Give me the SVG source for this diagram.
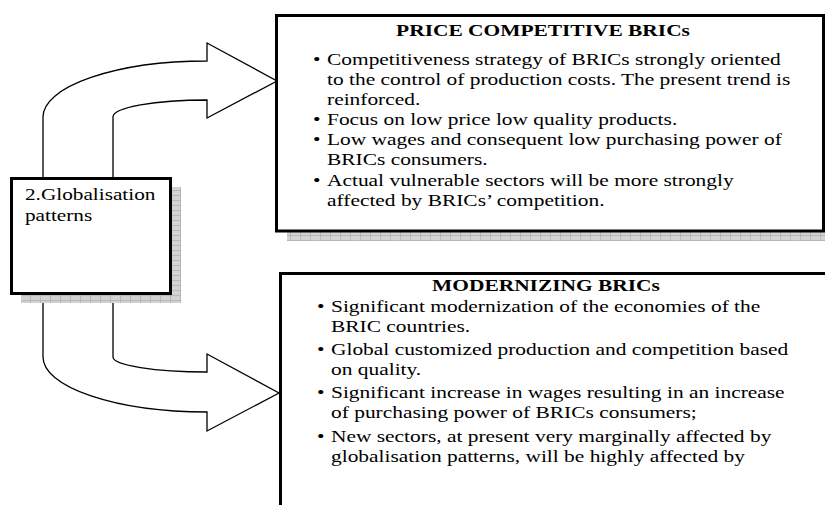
<svg xmlns="http://www.w3.org/2000/svg" width="825" height="505" viewBox="0 0 825 505">
<style>
.box{fill:#fff;stroke:#000;stroke-width:3}
.arrow{fill:#fff;stroke:#000;stroke-width:1.3;stroke-linejoin:miter}
.shadow{fill:url(#grid)}
.t{font-family:"Liberation Serif","Times New Roman",serif;font-size:17px;fill:#000}
.h{font-weight:bold;text-anchor:middle}
</style>
<defs>
<pattern id="grid" width="10" height="10" patternUnits="userSpaceOnUse">
<rect width="10" height="10" fill="#d2d2d2"/>
<path d="M0 0.5H10M0.5 0V10M0 5.5H10" stroke="#a6a6a6" stroke-width="0.6" fill="none"/>
</pattern>
</defs>
<g id="connectors">
<path class="arrow" d="M43,179 L43,117 A164,56 0 0 1 207,61 L207,43 L277,81 L207,118 L207,100 A94,17 0 0 0 113,117 L113,179"/>
<path class="arrow" d="M43,292 L43,357 A164,55 0 0 0 207,412 L207,431 L279,393 L207,354 L207,372 A94,15 0 0 1 113,357 L113,292"/>
</g>
<g id="globalisation">
<path class="shadow" d="M171,187 H181 V303 H21 V294 H171 Z"/>
<rect class="box" x="11.5" y="178.5" width="159" height="115"/>
<text class="t" transform="translate(25,200) scale(1.25,1)">2.Globalisation</text>
<text class="t" transform="translate(25,221) scale(1.25,1)">patterns</text>
</g>
<g id="price">
<rect class="shadow" x="287" y="232" width="538" height="9"/>
<rect class="box" x="276.5" y="15.5" width="547" height="215.5"/>
<text class="t h" transform="translate(543,36) scale(1.26,1)">PRICE COMPETITIVE BRICs</text>
<g class="t">
<text transform="translate(313,65) scale(1.26,1)">•</text>
<text transform="translate(327,65) scale(1.26,1)">Competitiveness strategy of BRICs strongly oriented</text>
<text transform="translate(327,85) scale(1.26,1)">to the control of production costs. The present trend is</text>
<text transform="translate(327,105) scale(1.26,1)">reinforced.</text>
<text transform="translate(313,125) scale(1.26,1)">•</text>
<text transform="translate(327,125) scale(1.26,1)">Focus on low price low quality products.</text>
<text transform="translate(313,145) scale(1.26,1)">•</text>
<text transform="translate(327,145) scale(1.26,1)">Low wages and consequent low purchasing power of</text>
<text transform="translate(327,165) scale(1.26,1)">BRICs consumers.</text>
<text transform="translate(313,186) scale(1.26,1)">•</text>
<text transform="translate(327,186) scale(1.26,1)">Actual vulnerable sectors will be more strongly</text>
<text transform="translate(327,206) scale(1.26,1)">affected by BRICs’ competition.</text>
</g>
</g>
<g id="modernizing">
<rect class="box" x="280.5" y="273.5" width="560" height="250"/>
<text class="t h" transform="translate(546,291) scale(1.26,1)">MODERNIZING BRICs</text>
<g class="t">
<text transform="translate(317,312) scale(1.26,1)">•</text>
<text transform="translate(331,312) scale(1.26,1)">Significant modernization of the economies of the</text>
<text transform="translate(331,332) scale(1.26,1)">BRIC countries.</text>
<text transform="translate(317,355) scale(1.26,1)">•</text>
<text transform="translate(331,355) scale(1.26,1)">Global customized production and competition based</text>
<text transform="translate(331,375) scale(1.26,1)">on quality.</text>
<text transform="translate(317,398) scale(1.26,1)">•</text>
<text transform="translate(331,398) scale(1.26,1)">Significant increase in wages resulting in an increase</text>
<text transform="translate(331,418) scale(1.26,1)">of purchasing power of BRICs consumers;</text>
<text transform="translate(317,442) scale(1.26,1)">•</text>
<text transform="translate(331,442) scale(1.26,1)">New sectors, at present very marginally affected by</text>
<text transform="translate(331,462) scale(1.26,1)">globalisation patterns, will be highly affected by</text>
</g>
</g>
</svg>
